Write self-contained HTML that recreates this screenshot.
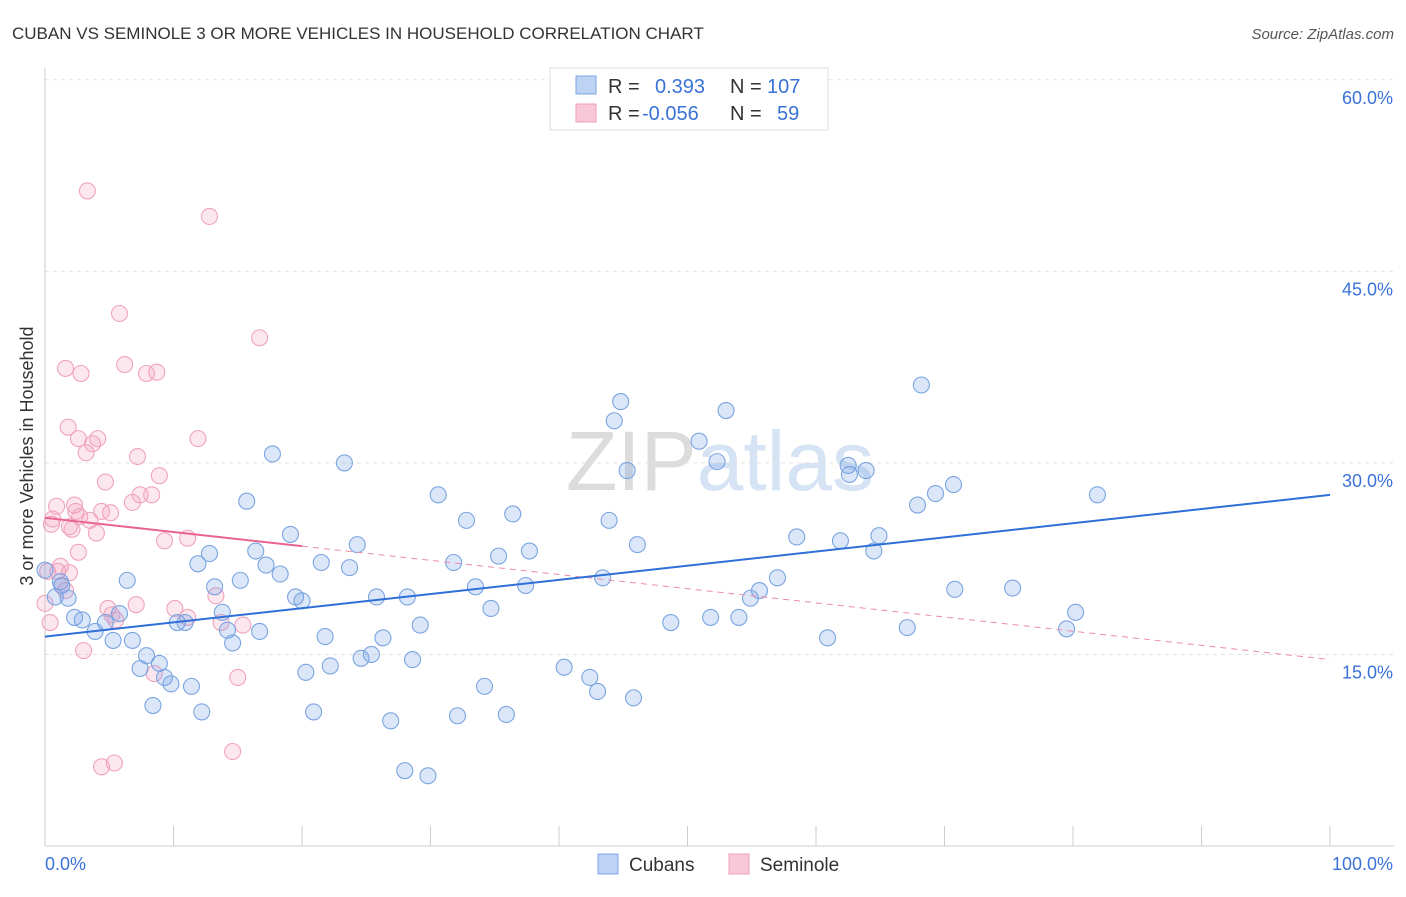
<!DOCTYPE html>
<html><head><meta charset="utf-8">
<style>
body{margin:0;background:#fff;font-family:"Liberation Sans",sans-serif;}
svg text{font-family:"Liberation Sans",sans-serif;}
</style></head>
<body>
<svg id="chart" width="1406" height="892">
<text x="12" y="39" font-size="17" fill="#333">CUBAN VS SEMINOLE 3 OR MORE VEHICLES IN HOUSEHOLD CORRELATION CHART</text>
<text x="1394" y="39" font-size="15" fill="#555" text-anchor="end" font-style="italic">Source: ZipAtlas.com</text>
<text x="720" y="490" font-size="84" fill="#e4e4e4" text-anchor="middle" font-family="Liberation Serif"><tspan fill="#dcdcdc">ZIP</tspan><tspan fill="#d5e3f4" font-family="Liberation Sans">atlas</tspan></text>
<g id="grid"></g>
<g id="axes"></g>
<g id="marks"></g>
<text x="33" y="456" font-size="18" fill="#333" text-anchor="middle" transform="rotate(-90 33 456)">3 or more Vehicles in Household</text>
<g>
<rect x="550" y="68" width="278" height="62" fill="#fff" stroke="#ddd"/>
<rect x="576" y="76" width="20" height="18" fill="#bcd3f3" stroke="#7aa4e0"/>
<rect x="576" y="104" width="20" height="18" fill="#f8c8d8" stroke="#ef9fb8"/>
<text x="608" y="93" font-size="20" fill="#333">R =</text>
<text x="655" y="93" font-size="20" fill="#3a72d8">0.393</text>
<text x="730" y="93" font-size="20" fill="#333">N =</text>
<text x="767" y="93" font-size="20" fill="#3a72d8">107</text>
<text x="608" y="120" font-size="20" fill="#333">R =</text>
<text x="642" y="120" font-size="20" fill="#3a72d8">-0.056</text>
<text x="730" y="120" font-size="20" fill="#333">N =</text>
<text x="777" y="120" font-size="20" fill="#3a72d8">59</text>
</g>
<g>
<rect x="598" y="854" width="20" height="20" fill="#bcd3f3" stroke="#7aa4e0"/>
<text x="629" y="871" font-size="19" fill="#333">Cubans</text>
<rect x="729" y="854" width="20" height="20" fill="#f8c8d8" stroke="#ef9fb8"/>
<text x="760" y="871" font-size="19" fill="#333">Seminole</text>
</g>
</svg>
<script>
const yTicks=[15,30,45,60];
const yTickLabels=["15.0%","30.0%","45.0%","60.0%"];
const xTicks=[0,10,20,30,40,50,60,70,80,90,100];
const cubanX=[0.8,1.3,1.8,2.3,2.9,3.9,4.7,5.3,5.8,6.4,6.8,7.4,7.9,8.4,8.9,9.3,9.8,10.3,10.9,11.4,11.9,12.2,12.8,13.2,13.8,14.2,14.6,15.2,15.7,16.4,16.7,17.2,17.7,18.3,19.1,19.5,20.0,20.3,20.9,21.5,21.8,22.2,23.3,23.7,24.3,24.6,25.4,25.8,26.3,26.9,28.0,28.2,28.6,29.2,29.8,30.6,31.8,32.1,32.8,33.5,34.2,34.7,35.3,35.9,36.4,37.4,37.7,40.4,42.4,43.0,43.4,43.9,44.3,44.8,45.3,45.8,46.1,48.7,50.9,51.8,52.3,53.0,54.0,54.9,55.6,57.0,58.5,60.9,61.9,62.5,62.6,63.9,64.5,64.9,67.1,67.9,68.2,69.3,70.7,70.8,75.3,79.5,80.2,81.9,0.0,1.2];
const cubanY=[19.5,20.4,19.4,17.9,17.7,16.8,17.5,16.1,18.2,20.8,16.1,13.9,14.9,11.0,14.3,13.2,12.7,17.5,17.5,12.5,22.1,10.5,22.9,20.3,18.3,16.9,15.9,20.8,27.0,23.1,16.8,22.0,30.7,21.3,24.4,19.5,19.2,13.6,10.5,22.2,16.4,14.1,30.0,21.8,23.6,14.7,15.0,19.5,16.3,9.8,5.9,19.5,14.6,17.3,5.5,27.5,22.2,10.2,25.5,20.3,12.5,18.6,22.7,10.3,26.0,20.4,23.1,14.0,13.2,12.1,21.0,25.5,33.3,34.8,29.4,11.6,23.6,17.5,31.7,17.9,30.1,34.1,17.9,19.4,20.0,21.0,24.2,16.3,23.9,29.8,29.1,29.4,23.1,24.3,17.1,26.7,36.1,27.6,28.3,20.1,20.2,17.0,18.3,27.5,21.6,20.7];
const seminoleX=[0.2,0.4,0.6,0.9,1.0,1.3,1.6,1.8,1.9,2.3,2.6,2.6,2.8,3.0,3.2,3.3,3.7,4.0,4.1,4.4,4.7,4.9,5.1,5.4,5.5,5.8,6.2,6.8,7.1,7.2,7.4,7.9,8.3,8.5,8.7,8.9,9.3,10.1,11.1,11.1,11.9,12.8,13.3,13.7,14.6,15.0,15.4,16.7,0.5,1.2,1.6,2.1,2.4,2.7,3.5,4.4,5.2,0.0,1.9];
const seminoleY=[21.5,17.5,25.6,26.6,21.5,20.4,37.4,32.8,25.0,26.7,23.0,31.9,37.0,15.3,30.8,51.3,31.5,24.5,31.9,6.2,28.5,18.6,26.1,6.5,17.7,41.7,37.7,26.9,18.9,30.5,27.5,37.0,27.5,13.5,37.1,29.0,23.9,18.6,17.9,24.1,31.9,49.3,19.6,17.5,7.4,13.2,17.3,39.8,25.2,21.9,20.0,24.8,26.2,25.8,25.5,26.2,18.1,19.0,21.4];
const cubanTrend=[16.4,27.5];
const seminoleTrend=[25.7,14.6];
const seminoleSolidEnd=20;

const NS="http://www.w3.org/2000/svg";
const xs=v=>45+v*12.85;
const ys=v=>846-v*12.77;
function mk(tag,attrs,parent){const e=document.createElementNS(NS,tag);for(const k in attrs)e.setAttribute(k,attrs[k]);parent.appendChild(e);return e;}
const grid=document.getElementById('grid'),axes=document.getElementById('axes'),marks=document.getElementById('marks');
yTicks.forEach((t,i)=>{
  const l=mk('line',{x1:45,x2:1394,y1:ys(t),y2:ys(t),stroke:'#e2e2e2','stroke-dasharray':'4,4'},grid);
  
  
  const tx=mk('text',{x:1393,y:ys(t)+24,'font-size':18,fill:'#3a72d8','text-anchor':'end'},grid);
  tx.textContent=yTickLabels[i];
  
  
});
const ya=mk('line',{x1:45,x2:45,y1:68,y2:846,stroke:'#ccc'},axes);


const xa=mk('line',{x1:45,x2:1394,y1:846,y2:846,stroke:'#ccc'},axes);


xTicks.forEach(t=>{
  const l=mk('line',{x1:xs(t),x2:xs(t),y1:826,y2:846,stroke:'#ccc'},axes);
  
  
});
const x0=mk('text',{x:45,y:870,'font-size':18,fill:'#3a72d8'},axes);x0.textContent='0.0%';


const x1=mk('text',{x:1393,y:870,'font-size':18,fill:'#3a72d8','text-anchor':'end'},axes);x1.textContent='100.0%';



seminoleX.forEach((x,i)=>{
  const c=mk('circle',{cx:xs(x),cy:ys(seminoleY[i]),r:8,fill:'rgba(244,160,190,0.25)',stroke:'#f0a3bd','stroke-width':1.1},marks);
  
  
});
cubanX.forEach((x,i)=>{
  const c=mk('circle',{cx:xs(x),cy:ys(cubanY[i]),r:8,fill:'rgba(110,160,230,0.25)',stroke:'#7aa4e0','stroke-width':1.1},marks);
  
  
});
const semAt=x=>seminoleTrend[0]+(seminoleTrend[1]-seminoleTrend[0])*x/100;
const sd=mk('line',{x1:xs(seminoleSolidEnd),y1:ys(semAt(seminoleSolidEnd)),x2:xs(100),y2:ys(seminoleTrend[1]),stroke:'#ee8aab','stroke-width':1,'stroke-dasharray':'6,5'},marks);


const ss=mk('line',{x1:xs(0),y1:ys(seminoleTrend[0]),x2:xs(seminoleSolidEnd),y2:ys(semAt(seminoleSolidEnd)),stroke:'#e8648f','stroke-width':2},marks);


const ct=mk('line',{x1:xs(0),y1:ys(cubanTrend[0]),x2:xs(100),y2:ys(cubanTrend[1]),stroke:'#2e6fd8','stroke-width':2},marks);


</script>
</body></html>
